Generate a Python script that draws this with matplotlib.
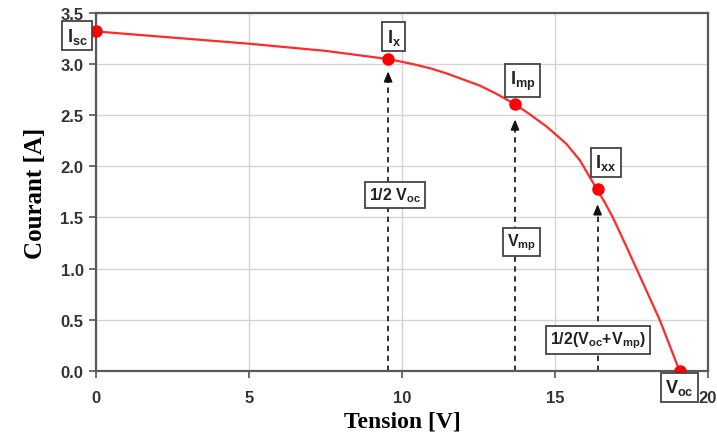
import matplotlib
matplotlib.use("Agg")
import matplotlib.pyplot as plt

plt.rcParams['mathtext.fontset'] = 'custom'
plt.rcParams['mathtext.rm'] = 'Liberation Sans'
plt.rcParams['mathtext.bf'] = 'Liberation Sans:bold'
plt.rcParams['mathtext.it'] = 'Liberation Sans:italic'

# I-V curve
voltage = [0, 2.5, 5.0, 7.5, 9.55, 10.37, 10.92, 11.46, 12.55, 13.09, 13.69, 14.18, 14.73,
           15.0, 15.38, 15.82, 16.37, 16.63, 16.9, 17.29, 17.67, 18.43, 19.08]
current = [3.32, 3.26, 3.20, 3.13, 3.05, 3.00, 2.96, 2.91, 2.79, 2.71, 2.61, 2.51, 2.39,
           2.32, 2.22, 2.06, 1.78, 1.65, 1.50, 1.25, 1.00, 0.50, 0.0]

# key points
pt_v = [0, 9.55, 13.7, 16.4, 19.08]
pt_i = [3.32, 3.05, 2.61, 1.78, 0.0]
pt_labels = [r'$\mathbf{I}_{\mathbf{sc}}$', r'$\mathbf{I}_{\mathbf{x}}$', r'$\mathbf{I}_{\mathbf{mp}}$',
             r'$\mathbf{I}_{\mathbf{xx}}$', r'$\mathbf{V}_{\mathbf{oc}}$']
pt_label_v = [-0.62, 9.74, 13.95, 16.67, 19.08]
pt_label_i = [3.28, 3.27, 2.84, 2.04, -0.16]

# arrows & their labels
arrow_v = [9.55, 13.7, 16.4]
arrow_top = [2.93, 2.46, 1.63]
arrow_labels = [r'$\mathbf{1/2\ V}_{\mathbf{oc}}$', r'$\mathbf{V}_{\mathbf{mp}}$',
                r'$\mathbf{1/2(V}_{\mathbf{oc}}\mathbf{+V}_{\mathbf{mp}}\mathbf{)}$']
arrow_label_v = [9.77, 13.9, 16.4]
arrow_label_i = [1.72, 1.26, 0.30]

xticks = [0, 5, 10, 15, 20]
yticks = [0.0, 0.5, 1.0, 1.5, 2.0, 2.5, 3.0, 3.5]

fig = plt.figure(figsize=(7.17, 4.39), dpi=100)
ax = fig.add_axes([0.134, 0.153, 0.853, 0.815])

ax.set_xlim(0, 20)
ax.set_ylim(0, 3.5)
ax.set_xticks(xticks)
ax.set_yticks(yticks)
ax.set_xticklabels([str(t) for t in xticks])
ax.set_yticklabels([f'{t:.1f}' for t in yticks])
for lab in ax.get_xticklabels() + ax.get_yticklabels():
    lab.set_fontfamily('Liberation Sans')
    lab.set_fontweight('bold')
    lab.set_fontsize(12)
    lab.set_color('#333333')
ax.tick_params(axis='both', direction='out', length=5, width=1.2, color='#555555')
ax.tick_params(axis='y', pad=4)
ax.tick_params(axis='x', pad=9)
ax.grid(True, color='#d4d4d4', linewidth=1.0)
ax.set_axisbelow(True)
for s in ax.spines.values():
    s.set_color('#5a5a5a')
    s.set_linewidth(1.6)

ax.plot(voltage, current, color='#ff2a2a', linewidth=1.6, zorder=3, clip_on=False)
ax.plot(pt_v, pt_i, 'o', color='#ff0000', markersize=8, zorder=4, clip_on=False)

for v, top in zip(arrow_v, arrow_top):
    ax.plot([v, v], [0, top - 0.05], color='#222222', linestyle=(0, (3, 2.5)), linewidth=1.3, zorder=2)
    ax.annotate('', xy=(v, top), xytext=(v, top - 0.06),
                arrowprops=dict(arrowstyle='-|>,head_length=0.6,head_width=0.25',
                                color='#111111', lw=1.2, shrinkA=0, shrinkB=0), zorder=2)

box = dict(boxstyle='square,pad=0.25', facecolor='white', edgecolor='#444444', linewidth=1.3)
for v, i, t in zip(pt_label_v, pt_label_i, pt_labels):
    ax.text(v, i, t, ha='center', va='center', fontsize=13, color='#222222',
            bbox=box, zorder=5, clip_on=False)
for v, i, t in zip(arrow_label_v, arrow_label_i, arrow_labels):
    ax.text(v, i, t, ha='center', va='center', fontsize=11.5, color='#222222',
            bbox=box, zorder=5, clip_on=False)

ax.set_xlabel('Tension [V]', fontfamily='Liberation Serif', fontweight='bold', fontsize=17, labelpad=4)
ax.set_ylabel('Courant [A]', fontfamily='Liberation Serif', fontweight='bold', fontsize=18, labelpad=10)

fig.savefig('out.png', dpi=100)
